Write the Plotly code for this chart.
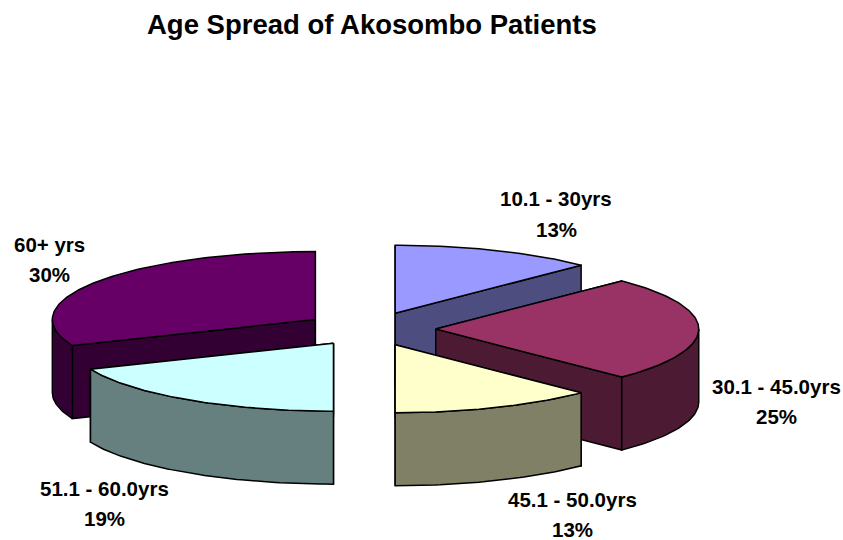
import numpy as np
import plotly.graph_objects as go

# Data
categories = ["10.1 - 30yrs", "30.1 - 45.0yrs", "45.1 - 50.0yrs", "51.1 - 60.0yrs", "60+ yrs"]
slice_shares = [12.5, 25, 12.5, 18.75, 31.25]
percent_labels = ["13%", "25%", "13%", "19%", "30%"]
top_colors = ["#9999FF", "#993366", "#FFFFCC", "#CCFFFF", "#660066"]
wall_colors = ["#4D4D80", "#4D1A33", "#808066", "#668080", "#330033"]
draw_order = [0, 4, 1, 3, 2]   # back to front
label_pos = [(556, 214), (776, 401), (572, 514), (104, 503), (49, 259)]  # label centres, px

# Projection of the exploded 3-D pie
W, H = 843, 540
CX, CY, R = 370, 329, 263      # pixels
TILT = 0.2586
DEPTH = 0.2776
EXPLODE = 0.25


def project(px, py, drop=0.0):
    """Pie-plane coordinates -> flat drawing coordinates (units of R)."""
    return px, py * TILT - drop


def arc(a0, a1, cx, cy, drop=0.0):
    n = max(2, int(abs(a1 - a0) * 60))
    t = np.linspace(a0, a1, n)
    return project(cx + np.sin(t), cy + np.cos(t), drop)


fig = go.Figure()


def poly(x, y, color, name):
    fig.add_trace(go.Scatter(
        x=np.append(x, x[0]), y=np.append(y, y[0]), mode="lines", fill="toself",
        fillcolor=color, line=dict(color="black", width=1.5), name=name,
        hoverinfo="name", showlegend=False,
    ))


total = sum(slice_shares)
edges = np.cumsum([0] + slice_shares) / total * 2 * np.pi

for i in draw_order:
    a0, a1 = edges[i], edges[i + 1]
    mid = (a0 + a1) / 2
    cx, cy = EXPLODE * np.sin(mid), EXPLODE * np.cos(mid)
    name = categories[i]
    # radial walls
    for a in (a0, a1):
        x0, y0 = project(cx, cy)
        x1, y1 = project(cx + np.sin(a), cy + np.cos(a))
        poly(np.array([x0, x1, x1, x0]), np.array([y0, y1, y1 - DEPTH, y0 - DEPTH]),
             wall_colors[i], name)
    # outer wall, front half only
    lo, hi = max(a0, np.pi / 2), min(a1, 3 * np.pi / 2)
    if hi > lo:
        xa, ya = arc(lo, hi, cx, cy)
        xb, yb = arc(hi, lo, cx, cy, DEPTH)
        poly(np.concatenate([xa, xb]), np.concatenate([ya, yb]), wall_colors[i], name)
    # top face
    xa, ya = arc(a0, a1, cx, cy)
    x0, y0 = project(cx, cy)
    poly(np.concatenate([[x0], xa]), np.concatenate([[y0], ya]), top_colors[i], name)

LABEL_FONT = dict(family="Liberation Sans", size=20.5, color="black")


def add_text(px, py, text, font):
    fig.add_annotation(
        x=px / W, y=1 - py / H, xref="paper", yref="paper", showarrow=False,
        xanchor="center", yanchor="middle", text=f"<b>{text}</b>", font=font,
    )


for i, (lx, ly) in enumerate(label_pos):
    add_text(lx, ly - 15, categories[i], LABEL_FONT)
    add_text(lx, ly + 15, percent_labels[i], LABEL_FONT)

add_text(372, 25, "Age Spread of Akosombo Patients",
         dict(family="Liberation Sans", size=27.5, color="black"))

fig.update_layout(
    width=W, height=H, margin=dict(l=0, r=0, t=0, b=0),
    paper_bgcolor="white", plot_bgcolor="white", showlegend=False,
    xaxis=dict(visible=False, range=[-CX / R, (W - CX) / R]),
    yaxis=dict(visible=False, range=[-(H - CY) / R, CY / R]),
)
fig.write_html("out.html", post_script="document.body.style.margin='0';",
               config=dict(displayModeBar=False))
